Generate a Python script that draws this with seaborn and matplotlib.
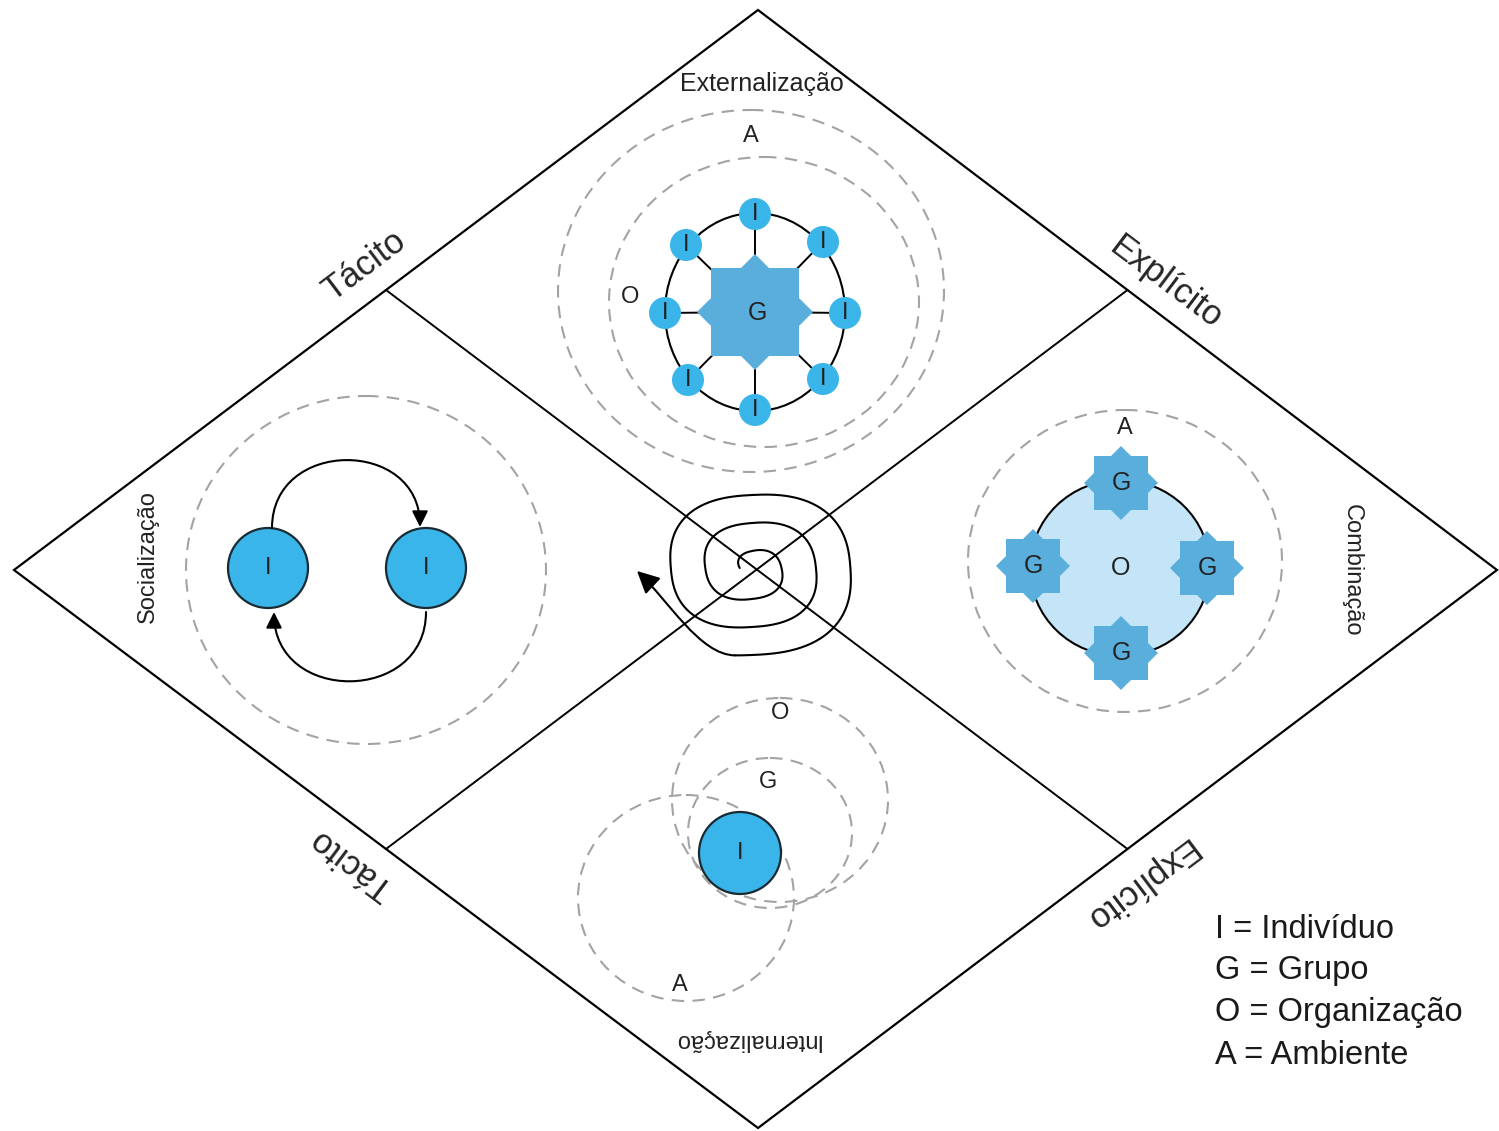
import numpy as np
import matplotlib
matplotlib.use("Agg")
import matplotlib.pyplot as plt
import seaborn as sns
from matplotlib.patches import Ellipse, Polygon, Rectangle, Circle, FancyArrowPatch
from matplotlib.path import Path

sns.set_style("white")
plt.rcParams['font.family'] = ['Liberation Sans Narrow', 'Liberation Sans', 'DejaVu Sans']

# --- content ---
modes = ["Externalização", "Socialização", "Combinação", "Internalização"]
edge_labels = ["Tácito", "Explícito", "Tácito", "Explícito"]
legend_lines = ["I = Indivíduo", "G = Grupo", "O = Organização", "A = Ambiente"]

# colours
blue_i = "#3AB5E9"
blue_g = "#5AAEDC"
blue_o = "#C4E5F7"
dash_grey = "#A3A3A3"

# diamond corners (top, right, bottom, left)
diamond = [(758, 10), (1497, 570), (758, 1128), (14, 570)]

fig = plt.figure(figsize=(14.99, 11.31), dpi=100)
ax = fig.add_axes([0, 0, 1, 1])
ax.set_xlim(0, 1499)
ax.set_ylim(1131, 0)
ax.axis("off")

# diamond + cross lines
ax.add_patch(Polygon(diamond, closed=True, fill=False, ec="black", lw=1.6, zorder=2))
mids = [((diamond[i][0] + diamond[(i + 1) % 4][0]) / 2, (diamond[i][1] + diamond[(i + 1) % 4][1]) / 2)
        for i in range(4)]
ax.plot([mids[3][0], mids[1][0]], [mids[3][1], mids[1][1]], color="black", lw=1.4, zorder=2)
ax.plot([mids[0][0], mids[2][0]], [mids[0][1], mids[2][1]], color="black", lw=1.4, zorder=2)


def dashed(cx, cy, w, h):
    ax.add_patch(Ellipse((cx, cy), w, h, fill=False, ec=dash_grey, lw=1.5,
                         ls=(0, (6, 4)), zorder=3))


def star(cx, cy, half, tip):
    ax.add_patch(Rectangle((cx - half, cy - half), 2 * half, 2 * half, fc=blue_g, ec="none", zorder=5))
    ax.add_patch(Polygon([(cx, cy - tip), (cx + tip, cy), (cx, cy + tip), (cx - tip, cy)],
                         closed=True, fc=blue_g, ec="none", zorder=5))


def label(x, y, s, size=17, **kw):
    ax.text(x, y, s, ha="center", va="center", fontsize=size, color="#222222", zorder=8, **kw)


# ---------- top quadrant: Externalização ----------
label(762, 84, modes[0], size=18)
dashed(751, 291, 386, 362)
dashed(764, 302, 310, 290)
label(751, 136, "A")
label(630, 297, "O")
ax.add_patch(Ellipse((755, 312), 180, 198, fill=False, ec="black", lw=1.5, zorder=4))
i_nodes = [(755, 214), (823, 242), (845, 313), (823, 379), (755, 410), (688, 380), (665, 313), (686, 245)]
for (x, y) in i_nodes:
    ax.plot([755, x], [312, y], color="black", lw=1.4, zorder=4)
star(755, 312, 44, 58)
for (x, y) in i_nodes:
    ax.add_patch(Circle((x, y), 16, fc=blue_i, ec="none", zorder=6))
    label(x, y, "I", size=17)
label(757, 313, "G", size=18)

# ---------- left quadrant: Socialização ----------
label(148, 557, modes[1], size=17, rotation=90)
dashed(366, 570, 360, 348)
for x in (268, 426):
    ax.add_patch(Circle((x, 568), 40, fc=blue_i, ec="#1A2A33", lw=1.6, zorder=6))
    label(x, 568, "I", size=17)
top_arc = Path([(272, 528), (272, 438), (420, 438), (420, 527)],
               [Path.MOVETO, Path.CURVE4, Path.CURVE4, Path.CURVE4])
bot_arc = Path([(426, 612), (426, 704), (274, 704), (274, 612)],
               [Path.MOVETO, Path.CURVE4, Path.CURVE4, Path.CURVE4])
for p in (top_arc, bot_arc):
    ax.add_patch(FancyArrowPatch(path=p, arrowstyle="-|>", mutation_scale=24,
                                 color="black", lw=1.5, zorder=7))

# ---------- right quadrant: Combinação ----------
label(1352, 570, modes[2], size=17, rotation=-90)
dashed(1125, 561, 314, 302)
label(1125, 428, "A")
ax.add_patch(Ellipse((1120, 568), 180, 176, fc=blue_o, ec="black", lw=1.5, zorder=4))
g_nodes = [(1121, 483), (1207, 568), (1121, 653), (1033, 566)]
for (x, y) in g_nodes:
    star(x, y, 27, 37)
    label(x, y, "G", size=18)
label(1121, 568, "O", size=18)

# ---------- bottom quadrant: Internalização ----------
label(746, 1040, modes[3], size=17, rotation=180)
dashed(780, 800, 216, 204)
dashed(770, 833, 164, 150)
dashed(686, 898, 216, 206)
ax.add_patch(Circle((740, 853), 41, fc=blue_i, ec="#1A2A33", lw=1.6, zorder=6))
label(740, 853, "I", size=17)
label(780, 713, "O")
label(768, 782, "G")
label(680, 985, "A")

# ---------- central spiral ----------
cx, cy = 752, 568
q = np.linspace(0, 11.1, 700)
theta = np.pi + q * np.pi / 2
r = 10 + 7.0 * q
sq = (np.abs(np.cos(theta)) ** 2.5 + np.abs(np.sin(theta)) ** 2.5) ** (-1 / 2.5)
sx = cx + 1.23 * r * sq * np.cos(theta)
sy = cy + r * sq * np.sin(theta)
ax.plot(sx, sy, color="black", lw=1.5, zorder=7, solid_capstyle="round")
x0, y0 = sx[-1], sy[-1]
d = np.array([sx[-1] - sx[-2], sy[-1] - sy[-2]])
d = d / np.hypot(*d)
tail = Path([(x0, y0), (x0 + 35 * d[0], y0 + 35 * d[1]), (668, 600), (637, 571)],
            [Path.MOVETO, Path.CURVE4, Path.CURVE4, Path.CURVE4])
ax.add_patch(FancyArrowPatch(path=tail, arrowstyle="-|>", mutation_scale=34,
                             color="black", lw=1.5, zorder=7))

# ---------- edge labels ----------
ax.text(364, 266, edge_labels[0], rotation=37, ha="center", va="center", fontsize=25, zorder=8)
ax.text(1166, 282, edge_labels[1], rotation=-37, ha="center", va="center", fontsize=25, zorder=8)
ax.text(352, 864, edge_labels[2], rotation=143, ha="center", va="center", fontsize=25, zorder=8)
ax.text(1140, 884, edge_labels[3], rotation=-143, ha="center", va="center", fontsize=25, zorder=8)

# ---------- legend ----------
for k, line in enumerate(legend_lines):
    ax.text(1215, 929 + k * 42, line, ha="left", va="center", fontsize=23.5, color="#1A1A1A")

fig.savefig("out.png", dpi=100, facecolor="white")
